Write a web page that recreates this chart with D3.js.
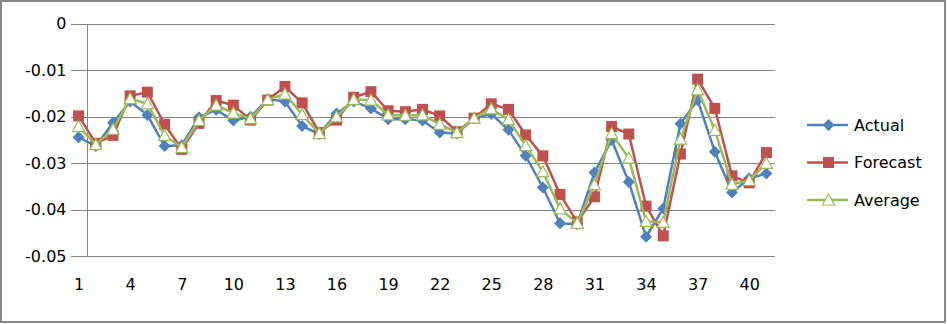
<!DOCTYPE html>
<html>
<head>
<meta charset="utf-8">
<script src="https://cdn.jsdelivr.net/npm/d3@7"></script>
<style>
  html, body { margin: 0; padding: 0; background: #fff; }
  svg { display: block; }
  text { font-family: "DejaVu Sans", sans-serif; font-size: 16px; fill: #000; }
</style>
</head>
<body>
<svg id="chart" width="947" height="324"></svg>
<script>
const categories = d3.range(1, 42);
const xTickLabels = [1, 4, 7, 10, 13, 16, 19, 22, 25, 28, 31, 34, 37, 40];
const yTickValues = [0, -0.01, -0.02, -0.03, -0.04, -0.05];
const yTickLabels = ["0", "-0.01", "-0.02", "-0.03", "-0.04", "-0.05"];

const actual = [-0.0244, -0.0263, -0.0213, -0.0167, -0.0196, -0.0263, -0.0261, -0.0201, -0.0185, -0.0208,
  -0.0200, -0.0162, -0.0167, -0.0220, -0.0237, -0.0193, -0.0167, -0.0182, -0.0205, -0.0205,
  -0.0208, -0.0234, -0.0236, -0.0203, -0.0194, -0.0228, -0.0284, -0.0352, -0.0429, -0.0431,
  -0.0320, -0.0250, -0.0340, -0.0458, -0.0397, -0.0215, -0.0164, -0.0275, -0.0363, -0.0332, -0.0322];
const forecast = [-0.0198, -0.0257, -0.0240, -0.0155, -0.0147, -0.0216, -0.0270, -0.0214, -0.0165, -0.0175,
  -0.0207, -0.0164, -0.0135, -0.0170, -0.0234, -0.0207, -0.0158, -0.0146, -0.0187, -0.0189,
  -0.0184, -0.0198, -0.0232, -0.0203, -0.0172, -0.0184, -0.0239, -0.0284, -0.0367, -0.0426,
  -0.0372, -0.0221, -0.0237, -0.0392, -0.0456, -0.0280, -0.0119, -0.0182, -0.0327, -0.0342, -0.0277];
const average = [-0.0221, -0.0260, -0.0227, -0.0161, -0.0172, -0.0240, -0.0266, -0.0208, -0.0175, -0.0192,
  -0.0204, -0.0163, -0.0151, -0.0195, -0.0236, -0.0200, -0.0163, -0.0164, -0.0196, -0.0197,
  -0.0196, -0.0216, -0.0234, -0.0203, -0.0183, -0.0206, -0.0262, -0.0318, -0.0398, -0.0429,
  -0.0346, -0.0236, -0.0289, -0.0425, -0.0427, -0.0248, -0.0142, -0.0229, -0.0345, -0.0337, -0.0300];

const seriesNames = ["Actual", "Forecast", "Average"];
const seriesColors = ["#4F81BD", "#C0504D", "#9BBB59"];
const seriesValues = [actual, forecast, average];
const markerTypes = ["diamond", "square", "triangle"];

const svg = d3.select("#chart");

// outer frame
svg.append("rect").attr("x", 1).attr("y", 1).attr("width", 944).attr("height", 321)
  .attr("fill", "#fff").attr("stroke", "#868686").attr("stroke-width", 2);

const x = d3.scaleBand().domain(categories).range([70, 775]).padding(0);
const cx = d => x(d) + x.bandwidth() / 2;
const y = d3.scaleLinear().domain([-0.05, 0]).range([256.3, 23.8]);

// gridlines + y labels
const yAxis = d3.axisLeft(y).tickValues(yTickValues)
  .tickFormat((d, i) => yTickLabels[i]).tickSize(-(775 - 71)).tickPadding(5);
const gy = svg.append("g").attr("transform", "translate(71,0)").call(yAxis);
gy.select(".domain").remove();
gy.selectAll(".tick line").attr("stroke", "#868686").attr("stroke-width", 1).attr("shape-rendering", "crispEdges");
gy.selectAll(".tick text").attr("font-family", "DejaVu Sans").attr("font-size", 16).attr("fill", "#000")
  .attr("x", -4.5);

// vertical axis line (crosses between category 1 and 2)
svg.append("line")
  .attr("x1", x(2)).attr("x2", x(2))
  .attr("y1", y(0)).attr("y2", y(-0.05))
  .attr("stroke", "#868686").attr("stroke-width", 1).attr("shape-rendering", "crispEdges");

// x labels
const xAxis = d3.axisBottom(d3.scaleLinear().domain([1, 41]).range([cx(1), cx(41)]))
  .tickValues(xTickLabels).tickFormat(d3.format("d")).tickSize(0).tickPadding(0);
const gx = svg.append("g").attr("transform", "translate(0,279)").call(xAxis);
gx.select(".domain").remove();
gx.selectAll(".tick text").attr("font-family", "DejaVu Sans").attr("font-size", 16).attr("fill", "#000");

function drawMarker(g, type, color, px, py) {
  if (type === "diamond") {
    g.append("path").attr("d", "M0,-6L6,0L0,6L-6,0Z")
      .attr("transform", `translate(${px},${py})`).attr("fill", color);
  } else if (type === "square") {
    g.append("rect").attr("x", px - 5.5).attr("y", py - 5.5).attr("width", 11).attr("height", 11)
      .attr("fill", color);
  } else {
    g.append("path").attr("d", "M0,-6L6,5L-6,5Z")
      .attr("transform", `translate(${px},${py})`).attr("fill", "#fff")
      .attr("stroke", color).attr("stroke-width", 1.2);
  }
}

const line = d3.line().x((d, i) => cx(categories[i])).y(d => y(d));

seriesValues.forEach((vals, s) => {
  const g = svg.append("g");
  g.append("path").datum(vals).attr("d", line).attr("fill", "none")
    .attr("stroke", seriesColors[s]).attr("stroke-width", 2.5).attr("stroke-linejoin", "round");
  vals.forEach((v, i) => drawMarker(g, markerTypes[s], seriesColors[s], cx(categories[i]), y(v)));
});

// legend
const legendY = [125, 162.5, 200];
seriesNames.forEach((name, s) => {
  const g = svg.append("g");
  g.append("line").attr("x1", 807).attr("x2", 848).attr("y1", legendY[s]).attr("y2", legendY[s])
    .attr("stroke", seriesColors[s]).attr("stroke-width", 2.5);
  drawMarker(g, markerTypes[s], seriesColors[s], 828.5, legendY[s]);
  g.append("text").attr("x", 854).attr("y", legendY[s]).attr("dy", "0.35em").text(name);
});
</script>
</body>
</html>
